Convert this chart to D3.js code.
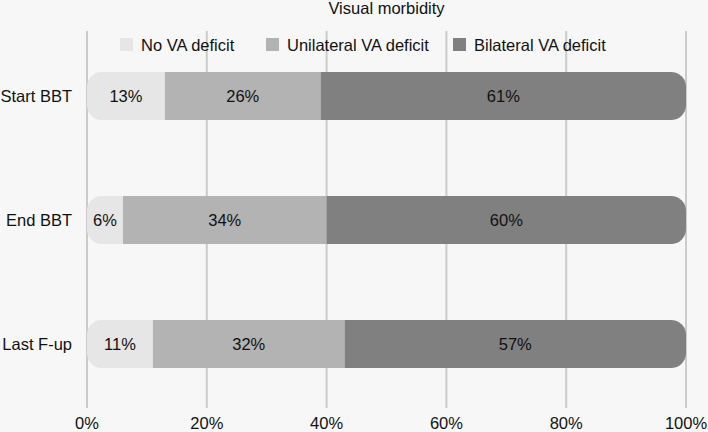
<!DOCTYPE html>
<html><head><meta charset="utf-8">
<script src="https://cdn.jsdelivr.net/npm/d3@7"></script>
<style>body{margin:0;background:#f7f7f7;}svg{display:block;font-family:"Liberation Sans",Arial,sans-serif;}</style>
</head><body>
<script>
const categories = ["Start BBT", "End BBT", "Last F-up"];
const seriesNames = ["No VA deficit", "Unilateral VA deficit", "Bilateral VA deficit"];
const noDeficit = [13, 6, 11];
const unilateral = [26, 34, 32];
const bilateral = [61, 60, 57];
const tickValues = [0, 20, 40, 60, 80, 100];
const colors = ["#e6e6e6", "#b3b3b3", "#808080"];

const W = 708, H = 432, FS = 16.5;
const svg = d3.select("body").append("svg").attr("width", W).attr("height", H);
svg.append("rect").attr("width", W).attr("height", H).attr("fill", "#f7f7f7");

const x = d3.scaleLinear().domain([0, 100]).range([87, 686]);
const y = d3.scaleBand().domain(categories).range([34, 406]).paddingInner(0.612).paddingOuter(0.306);

// gridlines
svg.append("g").selectAll("line").data(tickValues).join("line")
  .attr("x1", d => x(d)).attr("x2", d => x(d)).attr("y1", 31).attr("y2", 408)
  .attr("stroke", "#cbcbcb").attr("stroke-width", 2);

// axis labels
svg.append("g").selectAll("text").data(tickValues).join("text")
  .attr("x", d => x(d)).attr("y", 429).attr("text-anchor", "middle")
  .attr("font-size", FS).attr("fill", "#111").text(d => d + "%");

// title
svg.append("text").attr("x", (x(0) + x(100)) / 2).attr("y", 13.5).attr("text-anchor", "middle")
  .attr("font-size", FS).attr("fill", "#111").text("Visual morbidity");

// legend
const legendX = [120, 266, 453];
const lg = svg.append("g").selectAll("g").data(seriesNames).join("g")
  .attr("transform", (d, i) => `translate(${legendX[i]},0)`);
lg.append("rect").attr("x", 0).attr("y", 38).attr("width", 13).attr("height", 13).attr("fill", (d, i) => colors[i]);
lg.append("text").attr("x", 21).attr("y", 51).attr("font-size", FS).attr("fill", "#111").text(d => d);

const rows = categories.map((c, i) => ({cat: c, vals: [noDeficit[i], unilateral[i], bilateral[i]]}));
const defs = svg.append("defs");
const bh = y.bandwidth();
rows.forEach((r, ri) => {
  const id = "clip" + ri;
  defs.append("clipPath").attr("id", id).append("rect")
    .attr("x", x(0)).attr("y", y(r.cat)).attr("width", x(100) - x(0)).attr("height", bh)
    .attr("rx", 15).attr("ry", 15);
  const g = svg.append("g").attr("clip-path", `url(#${id})`);
  let cum = 0;
  const segs = r.vals.map((v, i) => { const s = {v, i, x0: cum, x1: cum + v}; cum += v; return s; });
  g.selectAll("rect").data(segs).join("rect")
    .attr("x", d => x(d.x0)).attr("y", y(r.cat)).attr("width", d => x(d.x1) - x(d.x0)).attr("height", bh)
    .attr("fill", d => colors[d.i]);
  svg.append("g").selectAll("text").data(segs).join("text")
    .attr("x", d => (x(d.x0) + x(d.x1)) / 2).attr("y", y(r.cat) + bh / 2 + 6)
    .attr("text-anchor", "middle").attr("font-size", FS).attr("fill", "#111").text(d => d.v + "%");
  svg.append("text").attr("x", 72).attr("y", y(r.cat) + bh / 2 + 6).attr("text-anchor", "end")
    .attr("font-size", FS).attr("fill", "#111").text(r.cat);
});
</script>
</body></html>
